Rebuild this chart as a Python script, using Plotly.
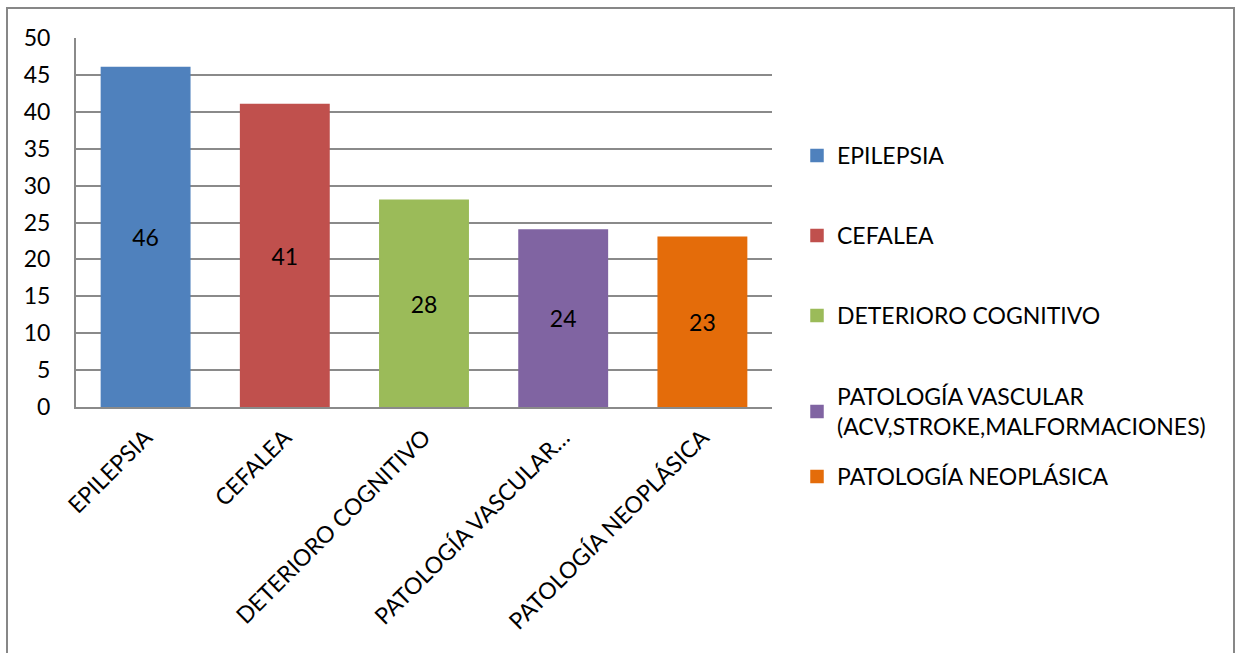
import plotly.graph_objects as go

categories = ["EPILEPSIA", "CEFALEA", "DETERIORO COGNITIVO", "PATOLOGÍA VASCULAR…", "PATOLOGÍA NEOPLÁSICA"]
legend_names = ["EPILEPSIA", "CEFALEA", "DETERIORO COGNITIVO",
                "PATOLOGÍA VASCULAR<br>(ACV,STROKE,MALFORMACIONES)", "PATOLOGÍA NEOPLÁSICA"]
values = [46, 41, 28, 24, 23]
colors = ["#4F81BD", "#C0504D", "#9BBB59", "#8064A2", "#E46C0A"]
y_ticks = [0, 5, 10, 15, 20, 25, 30, 35, 40, 45, 50]

W, H = 1238, 653
L, R, T, B = 76, 466, 38, 246
FONT = "Lato"
FS = 23

fig = go.Figure()
legend_ids = ["legend", "legend2", "legend3", "legend4", "legend5"]
for i in range(len(categories)):
    fig.add_trace(go.Bar(
        x=[categories[i]], y=[values[i]], name=legend_names[i],
        marker=dict(color=colors[i], line=dict(color=colors[i], width=1.5)),
        width=0.635,
        text=[str(values[i])], textposition="inside", insidetextanchor="middle",
        textangle=0, textfont=dict(color="black", size=FS, family=FONT),
        legend=legend_ids[i], showlegend=True,
    ))

# legend positions (top of each entry in pixels)
legend_tops = [134, 214, 294, 375, 455]
layout_legends = {}
for i, lid in enumerate(legend_ids):
    layout_legends[lid] = dict(
        x=797 / W, xref="container", xanchor="left",
        y=1 - legend_tops[i] / H, yref="container", yanchor="top",
        font=dict(family=FONT, size=FS, color="black"),
        bgcolor="rgba(0,0,0,0)", borderwidth=0, itemclick=False,
    )

pw = W - L - R
ph = H - T - B
fig.add_shape(type="rect", xref="paper", yref="paper",
              x0=(7 - L) / pw, x1=(1234 - L) / pw,
              y0=(H - B - 665) / ph, y1=(H - B - 8) / ph,
              line=dict(color="#878787", width=2), fillcolor="rgba(0,0,0,0)", layer="below")

fig.update_layout(
    width=W, height=H,
    margin=dict(l=L, r=R, t=T, b=B),
    paper_bgcolor="white", plot_bgcolor="white",
    barmode="overlay",
    font=dict(family=FONT, size=FS, color="black"),
    xaxis=dict(categoryorder="array", categoryarray=categories, tickangle=-45,
               showline=True, linecolor="#8a8a8a", linewidth=2, showgrid=False,
               ticks="", tickfont=dict(family=FONT, size=FS, color="black"),
               ticklabelstandoff=6, fixedrange=True),
    yaxis=dict(range=[0, 50], tickvals=y_ticks, showgrid=True, gridcolor="#8a8a8a",
               gridwidth=1.5, showline=True, linecolor="#8a8a8a", linewidth=2,
               ticks="", tickfont=dict(family=FONT, size=FS, color="black"),
               ticklabelstandoff=19, zeroline=False, fixedrange=True),
    **layout_legends,
)

fig.write_html("out.html")
